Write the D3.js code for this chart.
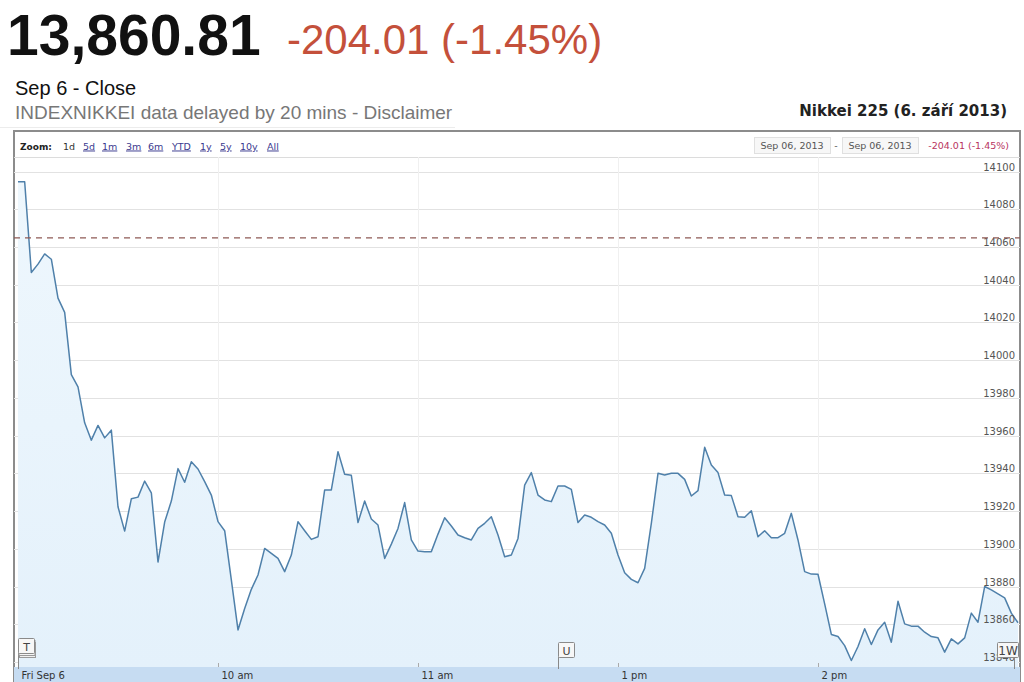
<!DOCTYPE html>
<html>
<head>
<meta charset="utf-8">
<script src="https://cdn.jsdelivr.net/npm/d3@7"></script>
<style>
  html, body { margin: 0; padding: 0; background: #fff; }
  svg { display: block; }
</style>
</head>
<body>
<svg id="chart" width="1024" height="682"></svg>
<script>
// ---------------- DATA ----------------
const lastValue = "13,860.81";
const changeText = "-204.01 (-1.45%)";
const prevClose = 14064.82;
// 2-minute closes, 9:00 -> 11:30 then 12:32 -> 15:00 (lunch break removed)
const values = [
  14094.6, 14094.6, 14046.5, 14050.9, 14056.3, 14053.5, 14032.9, 14025.3, 13992.3, 13985.8,
  13966.8, 13957.6, 13965.4, 13958.8, 13962.9, 13922.3, 13909.4, 13926.5, 13927.4, 13935.9,
  13929.7, 13893.0, 13914.2, 13925.3, 13942.5, 13935.3, 13946.2, 13942.3, 13935.6, 13928.5,
  13914.4, 13909.6, 13883.5, 13857.0, 13868.4, 13878.5, 13886.1, 13900.2, 13897.6, 13894.9,
  13887.9, 13896.7, 13914.4, 13909.6, 13905.0, 13906.4, 13931.2, 13931.2, 13951.5, 13939.5,
  13939.0, 13913.9, 13925.3, 13915.8, 13912.6, 13894.9, 13902.5, 13910.8, 13924.5, 13904.7,
  13898.8, 13898.5, 13898.5, 13907.8, 13916.5, 13912.1, 13907.3, 13905.9, 13904.7, 13910.8,
  13913.5, 13917.0, 13907.3, 13895.8, 13896.7, 13905.5, 13933.8, 13940.4, 13928.5, 13925.9,
  13925.0, 13933.3, 13933.3, 13931.5, 13913.9, 13917.9, 13916.7, 13914.4, 13912.6, 13908.2,
  13896.7, 13887.3, 13883.8, 13882.0, 13889.6, 13913.5, 13940.0, 13939.1, 13940.0, 13940.0,
  13936.8, 13928.0, 13930.8, 13953.8, 13944.4, 13940.4, 13928.5, 13928.2, 13917.0, 13916.7,
  13920.2, 13906.4, 13909.6, 13905.9, 13905.9, 13908.2, 13918.8, 13904.7, 13887.9, 13886.6,
  13886.5, 13870.8, 13854.6, 13853.5, 13848.7, 13840.8, 13848.2, 13857.6, 13849.3, 13857.0,
  13861.1, 13850.5, 13872.2, 13860.2, 13859.0, 13859.0, 13855.8, 13853.5, 13852.8, 13845.2,
  13852.3, 13849.6, 13852.8, 13865.9, 13861.1, 13880.0, 13878.2, 13876.1, 13874.0, 13865.9,
  13860.81
];
const xTickIndex = [0, 30, 60, 90, 120];
const xTickLabels = ["Fri Sep 6", "10 am", "11 am", "1 pm", "2 pm"];
const yTicks = [13840, 13860, 13880, 13900, 13920, 13940, 13960, 13980, 14000, 14020, 14040, 14060, 14080, 14100];
const zoomLabels = ["1d", "5d", "1m", "3m", "6m", "YTD", "1y", "5y", "10y", "All"];
const zoomLabelX = [63, 83, 102, 126, 148, 172, 200, 220, 240, 267];
const flagLabels = ["T", "U", "1W"];
const flagIndex = [0, 81, 146.9];
const rangeDates = ["Sep 06, 2013", "Sep 06, 2013"];
const chartTitle = "Nikkei 225 (6. září 2013)";

// ---------------- LAYOUT ----------------
const svg = d3.select("#chart");
const frame = { left: 14, right: 1020, top: 131, bottom: 682 };
const plot = { left: 14, right: 1020, top: 157, bottom: 667 };

const x = d3.scaleLinear().domain([0, values.length - 1]).range([18, 1018]);
const y = d3.scaleLinear().domain([13837.35, 14107.69]).range([plot.bottom, plot.top]);

// ---------------- HEADER ----------------
svg.append("text").attr("x", 7).attr("y", 55)
  .attr("font-family", "Liberation Sans, Arial, sans-serif").attr("font-weight", "bold")
  .attr("font-size", 57).attr("fill", "#111").text(lastValue);
svg.append("text").attr("x", 287).attr("y", 54)
  .attr("font-family", "Liberation Sans, Arial, sans-serif")
  .attr("font-size", 42).attr("fill", "#c4503b").text(changeText);
svg.append("text").attr("x", 15).attr("y", 95)
  .attr("font-family", "Liberation Sans, Arial, sans-serif")
  .attr("font-size", 20).attr("fill", "#111").text("Sep 6 - Close");
svg.append("text").attr("x", 15).attr("y", 119)
  .attr("font-family", "Liberation Sans, Arial, sans-serif")
  .attr("font-size", 19).attr("fill", "#777").text("INDEXNIKKEI data delayed by 20 mins - Disclaimer");
svg.append("line").attr("x1", 0).attr("x2", 455).attr("y1", 127.5).attr("y2", 127.5)
  .attr("stroke", "#ececec").attr("stroke-width", 1);
svg.append("text").attr("x", 1007).attr("y", 116).attr("text-anchor", "end")
  .attr("font-family", "DejaVu Sans, Verdana, sans-serif").attr("font-weight", "bold")
  .attr("font-size", 15).attr("fill", "#222").text(chartTitle);

// ---------------- FRAME ----------------
const defs = svg.append("defs");
const grad = defs.append("linearGradient").attr("id", "areaGrad")
  .attr("x1", 0).attr("y1", 0).attr("x2", 0).attr("y2", 1);
grad.append("stop").attr("offset", "0%").attr("stop-color", "#eef7fd");
grad.append("stop").attr("offset", "100%").attr("stop-color", "#e4f1fb");
defs.append("clipPath").attr("id", "plotClip").append("rect")
  .attr("x", plot.left).attr("y", plot.top)
  .attr("width", plot.right - plot.left).attr("height", plot.bottom - plot.top);

svg.append("rect").attr("x", frame.left).attr("y", frame.top)
  .attr("width", frame.right - frame.left).attr("height", frame.bottom - frame.top + 4)
  .attr("fill", "#fff").attr("stroke", "#8c8c8c").attr("stroke-width", 2);

// zoom bar
svg.append("text").attr("x", 20).attr("y", 149.5)
  .attr("font-family", "DejaVu Sans, Verdana, sans-serif").attr("font-weight", "bold")
  .attr("font-size", 9).attr("fill", "#222").text("Zoom:");
zoomLabels.forEach((t, i) => {
  svg.append("text").attr("x", zoomLabelX[i]).attr("y", 149.5)
    .attr("font-family", "DejaVu Sans, Verdana, sans-serif")
    .attr("font-size", 9.5)
    .attr("fill", i === 0 ? "#333" : "#3b3b8f")
    .attr("text-decoration", i === 0 ? "none" : "underline")
    .text(t);
});
svg.append("line").attr("x1", plot.left).attr("x2", plot.right)
  .attr("y1", plot.top + 0.5).attr("y2", plot.top + 0.5).attr("stroke", "#dcdcdc");

// date range boxes
const rg = svg.append("g").attr("font-family", "DejaVu Sans, Verdana, sans-serif").attr("font-size", 9.5);
[[754, rangeDates[0]], [842, rangeDates[1]]].forEach(([bx, t]) => {
  rg.append("rect").attr("x", bx + 0.5).attr("y", 137.5).attr("width", 76).attr("height", 16)
    .attr("fill", "#f7f7f7").attr("stroke", "#e0e0e0");
  rg.append("text").attr("x", bx + 38).attr("y", 149).attr("text-anchor", "middle")
    .attr("fill", "#555").text(t);
});
rg.append("text").attr("x", 836).attr("y", 149).attr("text-anchor", "middle").attr("fill", "#555").text("-");
rg.append("text").attr("x", 1009).attr("y", 149).attr("text-anchor", "end").attr("fill", "#b8345e").text(changeText);

// ---------------- GRID ----------------
const grid = svg.append("g");
grid.selectAll("line.h").data(yTicks).join("line")
  .attr("x1", plot.left).attr("x2", plot.right)
  .attr("y1", d => Math.round(y(d)) + 0.5).attr("y2", d => Math.round(y(d)) + 0.5)
  .attr("stroke", "#e2e2e2");
grid.selectAll("line.v").data(xTickIndex.slice(1)).join("line")
  .attr("x1", d => Math.round(x(d)) + 0.5).attr("x2", d => Math.round(x(d)) + 0.5)
  .attr("y1", plot.top).attr("y2", plot.bottom)
  .attr("stroke", "#f0f0f0");

// ---------------- SERIES ----------------
const series = svg.append("g").attr("clip-path", "url(#plotClip)");
const area = d3.area().x((d, i) => x(i)).y0(plot.bottom).y1(d => y(d));
const line = d3.line().x((d, i) => x(i)).y(d => y(d));
series.append("path").datum(values).attr("d", area).attr("fill", "url(#areaGrad)");

// y labels
const yAxis = svg.append("g").attr("transform", `translate(1015,0)`)
  .call(d3.axisLeft(y).tickValues(yTicks).tickSize(0).tickPadding(0).tickFormat(d3.format("d")));
yAxis.select(".domain").remove();
yAxis.selectAll("text").attr("dy", "-1.5").attr("font-family", "DejaVu Sans, Verdana, sans-serif")
  .attr("font-size", 10).attr("fill", "#555");

series.append("path").datum(values).attr("d", line)
  .attr("fill", "none").attr("stroke", "#4f80aa").attr("stroke-width", 1.5)
  .attr("stroke-linejoin", "round");

// previous close dashed line
svg.append("line").attr("x1", plot.left).attr("x2", plot.right)
  .attr("y1", y(prevClose)).attr("y2", y(prevClose))
  .attr("stroke", "#8e5a55").attr("stroke-width", 1.2).attr("stroke-dasharray", "6,5");

// ---------------- X AXIS BAND ----------------
svg.append("rect").attr("x", plot.left).attr("y", plot.bottom)
  .attr("width", plot.right - plot.left).attr("height", 682 - plot.bottom)
  .attr("fill", "#c6dcf2");
const xAxis = svg.append("g").attr("transform", `translate(0,${plot.bottom})`)
  .call(d3.axisTop(x).tickValues(xTickIndex).tickSize(4).tickFormat((d, i) => xTickLabels[i]));
xAxis.select(".domain").remove();
xAxis.selectAll(".tick line").attr("stroke", "#aaa");
xAxis.selectAll("text").attr("y", 12).attr("dy", 0).attr("x", 3).attr("text-anchor", "start")
  .attr("font-family", "DejaVu Sans, Verdana, sans-serif").attr("font-size", 10).attr("fill", "#333");

// ---------------- FLAGS ----------------
const flags = svg.append("g");
flagLabels.forEach((t, i) => {
  const fx = Math.round(x(flagIndex[i]));
  const w = t.length > 1 ? 21 : 16;
  const top = i === 0 ? 638 : 642;
  const g = flags.append("g");
  const stemX = i === 2 ? fx + w - 4 : fx;
  g.append("line").attr("x1", stemX + 0.5).attr("x2", stemX + 0.5).attr("y1", top + 15).attr("y2", plot.bottom + 2)
    .attr("stroke", "#888");
  if (i === 0) {
    g.append("rect").attr("x", fx + 1.5).attr("y", top + 4.5).attr("width", w).attr("height", 15)
      .attr("fill", "#f0f0f0").attr("stroke", "#999");
    g.append("rect").attr("x", fx + 1).attr("y", top + 2.5).attr("width", w).attr("height", 15)
      .attr("fill", "#f4f4f4").attr("stroke", "#999");
  }
  g.append("rect").attr("x", fx + 0.5).attr("y", top + 0.5).attr("width", w).attr("height", 15)
    .attr("fill", "#f7f7f7").attr("stroke", "#8a8a8a").attr("rx", 1);
  g.append("text").attr("x", fx + 0.5 + w / 2).attr("y", top + 12.5).attr("text-anchor", "middle")
    .attr("font-family", "DejaVu Sans, Verdana, sans-serif").attr("font-size", t.length > 1 ? 12 : 11)
    .attr("fill", "#444").text(t);
});
</script>
</body>
</html>
